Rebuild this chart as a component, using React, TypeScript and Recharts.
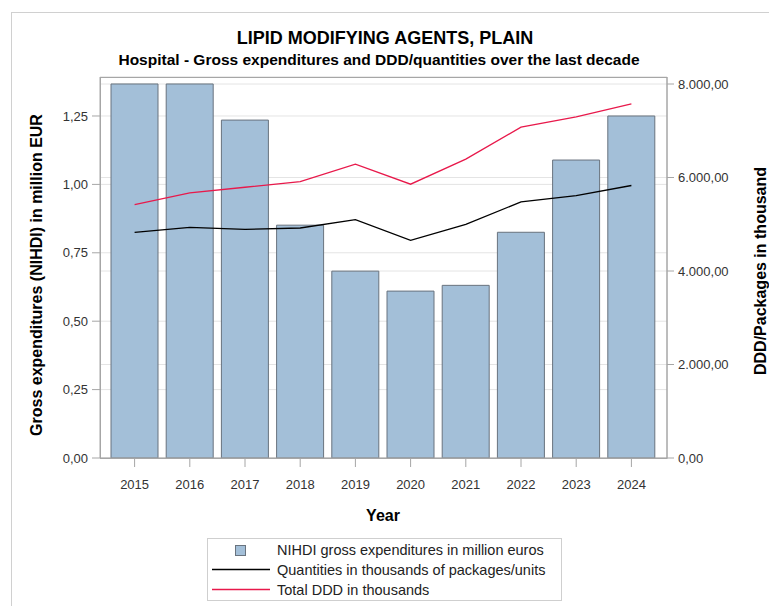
import React from "react";
import {
  ComposedChart,
  Bar,
  Line,
  XAxis,
  YAxis,
  CartesianGrid,
} from "recharts";

const years = ["2015", "2016", "2017", "2018", "2019", "2020", "2021", "2022", "2023", "2024"];
const expenditures = [1.367, 1.367, 1.235, 0.851, 0.683, 0.61, 0.631, 0.825, 1.089, 1.25];
const quantities = [4828, 4935, 4892, 4920, 5100, 4656, 4999, 5477, 5614, 5829];
const totalDDD = [5421, 5670, 5792, 5914, 6285, 5857, 6392, 7078, 7299, 7577];
const leftTicks = [0, 0.25, 0.5, 0.75, 1, 1.25];
const rightTicks = [0, 2000, 4000, 6000, 8000];

const data = years.map((y, i) => ({
  year: y,
  exp: expenditures[i],
  qty: quantities[i],
  ddd: totalDDD[i],
}));

const FONT = "'Liberation Sans', Arial, sans-serif";
const BAR_FILL = "#a3bfd8";
const BAR_STROKE = "#69737e";
const RED = "#e8194b";

function fmtLeft(v: number) {
  return v.toFixed(2).replace(".", ",");
}

function fmtRight(v: number) {
  const [int, dec] = v.toFixed(2).split(".");
  return int.replace(/\B(?=(\d{3})+(?!\d))/g, ".") + "," + dec;
}

const tickStyle = { fontSize: 13, fill: "#333", fontFamily: FONT };

export default function App() {
  return (
    <div style={{ position: "absolute", left: 0, top: 0, width: 769, height: 606, background: "#fff" }}>
      <ComposedChart
        width={769}
        height={606}
        data={data}
        margin={{ top: 77, right: 0, bottom: 118, left: 0 }}
      >
        <CartesianGrid yAxisId="left" vertical={false} stroke="#e4e4e4" />
        <CartesianGrid yAxisId="right" vertical={false} stroke="#e4e4e4" />
        <XAxis
          dataKey="year"
          height={30}
          padding={{ left: 7, right: 8 }}
          tickSize={9}
          tickMargin={13}
          stroke="#a6a6a6"
          tick={tickStyle}
        />
        <YAxis
          yAxisId="left"
          width={100}
          domain={[0, 1.3925]}
          ticks={leftTicks}
          tickFormatter={fmtLeft}
          tickSize={8}
          tickMargin={4}
          stroke="#a6a6a6"
          tick={tickStyle}
        />
        <YAxis
          yAxisId="right"
          orientation="right"
          width={102}
          domain={[0, 8150]}
          ticks={rightTicks}
          tickFormatter={fmtRight}
          tickSize={7}
          tickMargin={4}
          stroke="#a6a6a6"
          tick={{ ...tickStyle, textAnchor: "start" }}
        />
        <Bar
          yAxisId="left"
          dataKey="exp"
          barSize={47}
          fill={BAR_FILL}
          stroke={BAR_STROKE}
          strokeWidth={1}
          isAnimationActive={false}
        />
        <Line
          yAxisId="right"
          dataKey="qty"
          type="linear"
          stroke="#000"
          strokeWidth={1.3}
          dot={false}
          activeDot={false}
          isAnimationActive={false}
        />
        <Line
          yAxisId="right"
          dataKey="ddd"
          type="linear"
          stroke={RED}
          strokeWidth={1.3}
          dot={false}
          activeDot={false}
          isAnimationActive={false}
        />
      </ComposedChart>

      <svg
        width={769}
        height={606}
        style={{ position: "absolute", left: 0, top: 0, pointerEvents: "none" }}
        fontFamily={FONT}
      >
        {/* outer frame */}
        <rect x={11.5} y={12.5} width={800} height={700} fill="none" stroke="#d0d0d0" />
        {/* plot frame */}
        <rect x={100.5} y={77.5} width={566.5} height={381} fill="none" stroke="#a6a6a6" />

        <text x={385} y={44} textAnchor="middle" fontSize={18} fontWeight="bold" fill="#000">
          LIPID MODIFYING AGENTS, PLAIN
        </text>
        <text x={379} y={65} textAnchor="middle" fontSize={15.5} fontWeight="bold" fill="#000">
          Hospital - Gross expenditures and DDD/quantities over the last decade
        </text>

        <text
          x={0}
          y={0}
          transform="translate(42 275) rotate(-90)"
          textAnchor="middle"
          fontSize={16}
          fontWeight="bold"
          fill="#000"
        >
          Gross expenditures (NIHDI) in million EUR
        </text>
        <text
          x={0}
          y={0}
          transform="translate(766 271) rotate(-90)"
          textAnchor="middle"
          fontSize={16}
          fontWeight="bold"
          fill="#000"
        >
          DDD/Packages in thousand
        </text>
        <text x={383} y={521} textAnchor="middle" fontSize={16} fontWeight="bold" fill="#000">
          Year
        </text>

        {/* legend */}
        <rect x={207.5} y={538.5} width={354} height={62} fill="#fff" stroke="#cfcfcf" />
        <rect x={235.5} y={545.5} width={10} height={10} fill={BAR_FILL} stroke={BAR_STROKE} />
        <line x1={212} x2={270} y1={569.5} y2={569.5} stroke="#000" strokeWidth={1.3} />
        <line x1={212} x2={270} y1={589.5} y2={589.5} stroke={RED} strokeWidth={1.3} />
        <text x={277} y={555} fontSize={14.5} fill="#222">
          NIHDI gross expenditures in million euros
        </text>
        <text x={277} y={575} fontSize={14.5} fill="#222">
          Quantities in thousands of packages/units
        </text>
        <text x={277} y={595} fontSize={14.5} fill="#222">
          Total DDD in thousands
        </text>
      </svg>
    </div>
  );
}
